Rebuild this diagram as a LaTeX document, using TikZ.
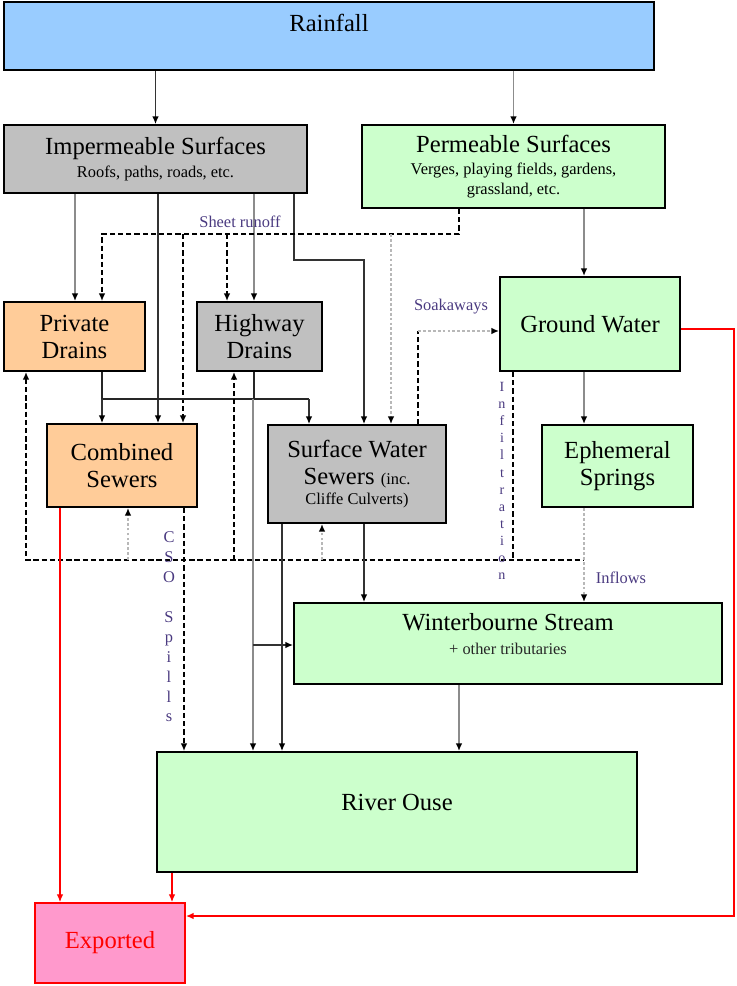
\documentclass[tikz,border=0pt]{standalone}
\usepackage{fontspec}
\setmainfont{Liberation Serif}
\usetikzlibrary{arrows.meta}
\definecolor{rainblue}{HTML}{99CCFF}
\definecolor{palegreen}{HTML}{CCFFCC}
\definecolor{drainorange}{HTML}{FFCC99}
\definecolor{sealgray}{HTML}{C0C0C0}
\definecolor{exportpink}{HTML}{FF99CC}
\definecolor{flowlabel}{HTML}{4A3A80}
\newcommand{\subfont}{\fontsize{14}{17}\selectfont}
\tikzset{
  box/.style={draw=black, line width=1.6pt, align=center, inner sep=0pt,
    font=\fontsize{21}{23}\selectfont},
  title/.style={inner sep=0pt, align=center, font=\fontsize{21}{23}\selectfont},
  tag/.style={inner sep=0pt, text=flowlabel, font=\subfont},
  vtag/.style={inner sep=0pt, align=center, text=flowlabel},
  solidline/.style={black!80, line width=1.1pt, ->},
  greyline/.style={black!45, line width=1.4pt, ->},
  dashline/.style={black, line width=1.2pt, dash pattern=on 4.5pt off 2.5pt},
  dotline/.style={black!28, line width=2.2pt, dash pattern=on 2.4pt off 1.8pt},
  redline/.style={red, line width=0.9pt, -{Latex[length=6.5pt,width=5.5pt,color=red]}}
}
\begin{document}
\begin{tikzpicture}[x=0.3mm,y=-0.3mm,>={Latex[length=6.5pt,width=5.5pt,color=black]}]
\useasboundingbox (0,0) rectangle (736,986);
%%%%% BOXES %%%%%
\node[box, fill=rainblue, minimum width=195mm, minimum height=20.4mm] (rain) at (329,36) {};
\node[title] (rain-t) at (329,23) {Rainfall};

\node[box, fill=sealgray, minimum width=90.9mm, minimum height=20.4mm] (imp) at (155.5,159)
  {Impermeable Surfaces\\[-4pt]{\subfont Roofs, paths, roads, etc.}};
\node[box, fill=palegreen, minimum width=90.9mm, minimum height=24.9mm] (perm) at (513.5,166.5)
  {Permeable Surfaces\\[-4pt]{\subfont Verges, playing fields, gardens,}\\[-6pt]{\subfont grassland, etc.}};

\node[box, fill=drainorange, minimum width=42.3mm, minimum height=20.7mm] (priv) at (74.5,336.5) {Private\\Drains};
\node[box, fill=sealgray, minimum width=37.5mm, minimum height=20.7mm] (hwy) at (259.5,336.5) {Highway\\Drains};
\node[box, fill=palegreen, minimum width=54mm, minimum height=28.2mm] (gw) at (590,324) {Ground Water};

\node[box, fill=drainorange, minimum width=45mm, minimum height=24.9mm] (comb) at (122,465.5) {Combined\\Sewers};
\node[box, fill=sealgray, minimum width=53.4mm, minimum height=29.4mm] (sws) at (357,474)
  {Surface Water\\Sewers {\subfont (inc.}\\[-6pt]{\subfont Cliffe Culverts)}};
\node[box, fill=palegreen, minimum width=45.3mm, minimum height=24.6mm] (eph) at (617.5,466) {Ephemeral\\Springs};

\node[box, fill=palegreen, minimum width=128.4mm, minimum height=24.3mm] (wint) at (508,643.5) {};
\node[title] (wint-t) at (508,622) {Winterbourne Stream};
\node[tag, text=black!85] (wint-s) at (508,649) {+ other tributaries};

\node[box, fill=palegreen, minimum width=144mm, minimum height=36mm] (ouse) at (397,812) {};
\node[title] (ouse-t) at (397,802) {River Ouse};

\node[box, draw=red, fill=exportpink, text=red, minimum width=45mm, minimum height=24mm] (expo) at (110,943) {Exported};

%%%%% RAINFALL %%%%%
\draw[solidline] (rain.south -| imp.north) -- (imp.north);
\draw[greyline] (rain.south -| perm.north) -- (perm.north);

%%%%% SURFACES %%%%%
\draw[greyline] (imp.south -| 75,0) -- (priv.north -| 75,0);
\draw[solidline] (imp.south -| 158,0) -- (comb.north -| 158,0);
\draw[greyline] (imp.south -| 254,0) -- (hwy.north -| 254,0);
\draw[solidline] (imp.south -| 294,0) -- (294,260) -- (364,260) -- (sws.north -| 364,0);
\draw[greyline] (perm.south -| 584,0) -- (gw.north -| 584,0);

%%%%% SHEET RUNOFF %%%%%
\coordinate (runoff) at (459,234);
\draw[dashline,->] (perm.south -| runoff) -- (runoff) -- (102,234) -- (priv.north -| 102,0);
\draw[dashline,->] (183,234) -- (comb.north -| 183,0);
\draw[dashline,->] (227,234) -- (hwy.north -| 227,0);
\draw[dotline,->] (391,234) -- (sws.north -| 391,0);
\node[tag] (runoff-t) at (240,222) {Sheet runoff};

%%%%% DRAINS %%%%%
\draw[black!85, line width=1.1pt] (priv.south -| 102,0) -- (102,399) -- (309,399);
\draw[black!85, line width=1.1pt] (hwy.south -| 254,0) -- (254,399);
\draw[solidline] (102,399) -- (comb.north -| 102,0);
\draw[solidline] (309,399) -- (sws.north -| 309,0);
\draw[greyline] (253,399) -- (ouse.north -| 253,0);
\draw[solidline] (253,645) -- (wint.west |- 0,645);

%%%%% SOAKAWAYS %%%%%
\draw[dashline] (sws.north -| 418,0) -- (418,331);
\draw[dotline,->] (418,331) -- (gw.west |- 0,331);
\node[tag] (soak-t) at (451,307) {Soakaways};

%%%%% GROUND WATER %%%%%
\draw[greyline] (gw.south -| 584,0) -- (eph.north -| 584,0);
\draw[dashline] (gw.south -| 513,0) -- (513,560);
\draw[dashline,<-] (priv.south -| 26,0) -- (26,560) -- (584,560);
\draw[dotline,->] (128,560) -- (comb.south -| 128,0);
\draw[dashline,->] (234,560) -- (hwy.south -| 234,0);
\draw[dotline,->] (322,560) -- (sws.south -| 322,0);
\node[vtag, font=\fontsize{12}{14.6}\selectfont] (infil-t) at (502,481)
  {I\\n\\f\\i\\l\\t\\r\\a\\t\\i\\o\\n};
\draw[dotline,->] (eph.south -| 584,0) -- (wint.north -| 584,0);
\node[tag] (inflow-t) at (621,578) {Inflows};

%%%%% SEWERS %%%%%
\draw[dashline,->] (comb.south -| 184,0) -- (ouse.north -| 184,0);
\node[vtag, font=\fontsize{14}{17}\selectfont] (cso-t) at (169,627)
  {C\\S\\O\\\strut\\S\\p\\i\\l\\l\\s};
\draw[solidline] (sws.south -| 282,0) -- (ouse.north -| 282,0);
\draw[solidline] (sws.south -| 364,0) -- (wint.north -| 364,0);
\draw[greyline] (wint.south -| 459,0) -- (ouse.north -| 459,0);

%%%%% EXPORT %%%%%
\draw[redline] (comb.south -| 60,0) -- (expo.north -| 60,0);
\draw[redline] (ouse.south -| 172,0) -- (expo.north -| 172,0);
\draw[redline, line width=1.2pt] (gw.east |- 0,329) -- (734,329) -- (734,916) -- (expo.east |- 0,916);
\end{tikzpicture}
\end{document}
